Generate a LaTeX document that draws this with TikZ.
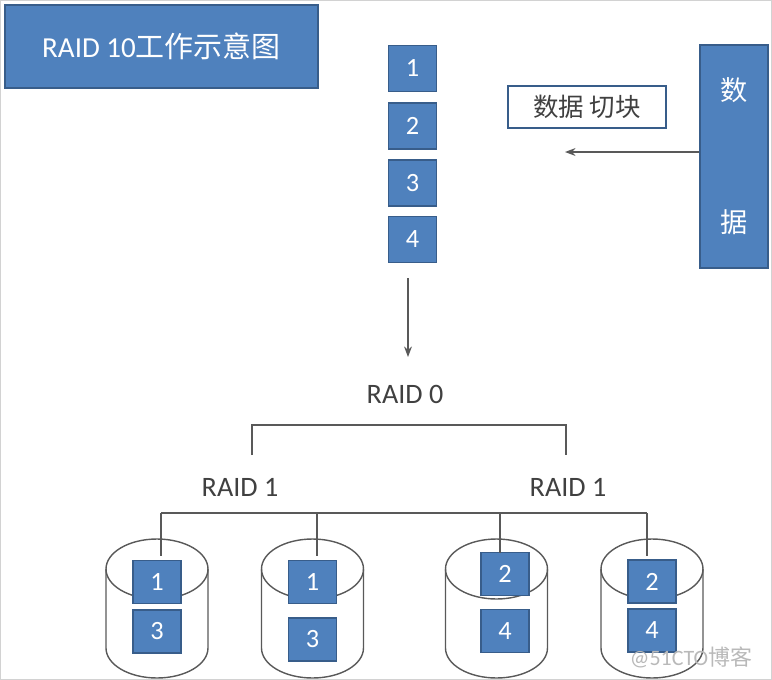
\documentclass[tikz,border=0pt]{standalone}
\usepackage{fontspec}
\setmainfont{Carlito}
\newfontfamily\cjk{Noto Sans CJK SC}
\usetikzlibrary{arrows.meta}
\definecolor{raidblue}{HTML}{4F81BD}
\definecolor{raidedge}{HTML}{385D8A}
\definecolor{raidline}{HTML}{595959}
\definecolor{raidtext}{HTML}{404040}

\begin{document}
\begin{tikzpicture}
        [x=0.02cm,y=-0.02cm,
         blk/.style={draw=raidedge, fill=raidblue, line width=0.9pt, text=white,
           minimum width=0.96cm, minimum height=0.92cm, inner sep=0pt,
           font=\fontsize{15}{17}\selectfont},
         lbl/.style={text=raidtext, inner sep=0pt, font=\fontsize{16}{18}\selectfont},
         wire/.style={draw=raidline, line width=0.8pt}]
        \useasboundingbox (0,0) rectangle (772,680);
        \draw[gray!35, line width=1pt] (0.5,0.5) rectangle (771.5,679.5);
        %-----title
         \node[blk, minimum width=6.26cm, minimum height=1.66cm,
           font=\fontsize{16.5}{19}\selectfont]  (title) at (161.5,46.5) {RAID 10{\cjk 工作示意图}};
        %-----data and blocks
         \node[blk, minimum width=1.36cm, minimum height=4.46cm]  (data) at (734,156.5) {};
         \node[text=white, font=\cjk\fontsize{15.5}{18}\selectfont]  (shu) at (734,90) {数};
         \node[text=white, font=\cjk\fontsize{15.5}{18}\selectfont]  (ju) at (734,222) {据};
         \node[draw=raidedge, line width=1pt, fill=white, text=raidtext,
           minimum width=3.16cm, minimum height=0.84cm, inner sep=0pt,
           font=\cjk\fontsize{14.5}{16}\selectfont]  (cut) at (587,107) {数据 切块};
         \foreach \n/\y in {1/68.5,2/126,3/183,4/239.5}
         \node[blk]  (s\n) at (412.5,\y) {\n};

         \coordinate (tip) at (565,152);
         \coordinate (a1) at (408,278);
         \coordinate (a2) at (408,357);
         \draw[wire, -{Stealth[length=6pt,width=4.5pt]}] (data.west |- tip) -- (tip);
         \draw[wire, -{Stealth[length=6pt,width=4.5pt]}] (a1) -- (a2);

        %-----RAID levels
         \node[lbl]  (r0) at (405,394) {RAID 0};
         \node[lbl]  (r1a) at (240,487) {RAID 1};
         \node[lbl]  (r1b) at (568,487) {RAID 1};
         \coordinate (r0a) at (252,455);
         \coordinate (r0b) at (566,455);
          \draw[wire] (r0a) -- ++(0,-30) -| (r0b);

        %-----disks
         \foreach \c in {157,312.5,496.5,652}
         {
          \draw[wire] (\c,569) ellipse [x radius=1.02cm, y radius=0.6cm];
          \draw[wire] (\c-51,569) -- (\c-51,648)
            arc [start angle=180, end angle=360, x radius=1.02cm, y radius=0.6cm] -- (\c+51,569);
         }
         \foreach \name/\x/\y/\n in {d1a/157/582/1, d1b/157/631.5/3, d2a/312.5/582/1, d2b/312.5/639.5/3,
                                     d3a/505/574/2, d3b/505/631/4, d4a/652/581.5/2, d4b/652/630.5/4}
         \node[blk, minimum height=0.86cm]  (\name) at (\x,\y) {\n};

        %-----bus
         \foreach \i/\x/\y in {1/161/556, 2/317/556, 3/500/553, 4/647/556}
         {
          \coordinate (b\i) at (\x,513);
          \coordinate (e\i) at (\x,\y);
         }
          \draw[wire] (b1) -- (b4);
         \foreach \from/\to in {b1/e1, b2/e2, b3/e3, b4/e4}
         \draw[wire] (\from) -- (\to);

         \node[text=gray!55, font=\fontsize{12.5}{14}\selectfont]  (wm) at (691,657) {@51CTO{\cjk 博客}};

        \end{tikzpicture}
\end{document}
